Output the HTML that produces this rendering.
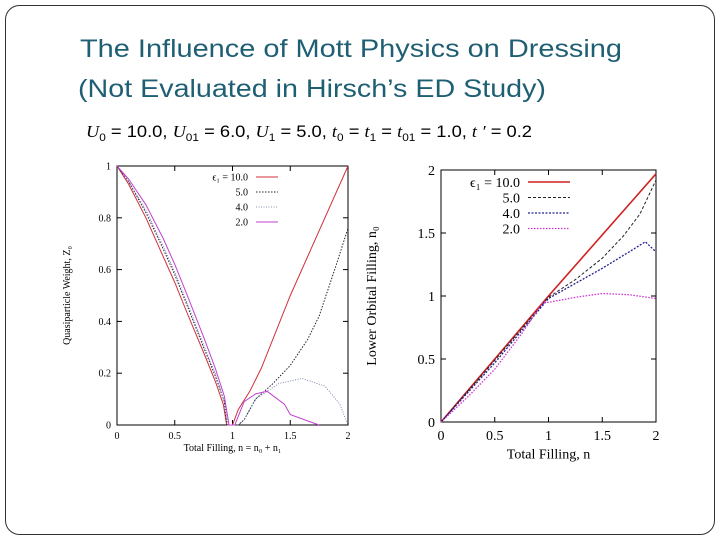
<!DOCTYPE html>
<html><head><meta charset="utf-8"><style>
html,body{margin:0;padding:0;background:#fff;}
svg{display:block;font-family:"Liberation Serif",serif;}
</style></head><body>
<svg id="s" width="720" height="540" viewBox="0 0 720 540" xmlns="http://www.w3.org/2000/svg">
<rect x="5.5" y="5.5" width="709" height="529" rx="14" fill="#fff" stroke="#333" stroke-width="1"/>
<text x="80" y="57" font-family="Liberation Sans, sans-serif" font-size="25" fill="#1f5f73" textLength="542" lengthAdjust="spacingAndGlyphs">The Influence of Mott Physics on Dressing</text>
<text x="78" y="97" font-family="Liberation Sans, sans-serif" font-size="25" fill="#1f5f73" textLength="468" lengthAdjust="spacingAndGlyphs">(Not Evaluated in Hirsch’s ED Study)</text>
<text x="86" y="137" font-family="Liberation Sans, sans-serif" font-size="17" fill="#000" textLength="446" lengthAdjust="spacingAndGlyphs"><tspan font-style="italic" font-family="Liberation Serif">U</tspan><tspan font-size="11" dy="4">0</tspan><tspan dy="-4"> = 10.0, </tspan><tspan font-style="italic" font-family="Liberation Serif">U</tspan><tspan font-size="11" dy="4">01</tspan><tspan dy="-4"> = 6.0, </tspan><tspan font-style="italic" font-family="Liberation Serif">U</tspan><tspan font-size="11" dy="4">1</tspan><tspan dy="-4"> = 5.0, </tspan><tspan font-style="italic" font-family="Liberation Serif">t</tspan><tspan font-size="11" dy="4">0</tspan><tspan dy="-4"> = </tspan><tspan font-style="italic" font-family="Liberation Serif">t</tspan><tspan font-size="11" dy="4">1</tspan><tspan dy="-4"> = </tspan><tspan font-style="italic" font-family="Liberation Serif">t</tspan><tspan font-size="11" dy="4">01</tspan><tspan dy="-4"> = 1.0, </tspan><tspan font-style="italic" font-family="Liberation Serif">t ′</tspan><tspan> = 0.2</tspan></text>
<g id="left"></g>
<g id="right"></g>
</svg>
<script>
const NS="http://www.w3.org/2000/svg";
// Left chart data: quasiparticle weight Z0 vs total filling n
const leftCategories=["10.0","5.0","4.0","2.0"];
const leftX10=[0,0.1,0.25,0.4,0.5,0.6,0.75,0.85,0.92,0.95,1.0,1.05,1.15,1.25,1.5,1.75,2.0];
const leftY10=[1,0.93,0.8,0.65,0.55,0.44,0.28,0.17,0.08,0,0,0.06,0.13,0.22,0.5,0.75,1.0];
const leftX5=[0,0.1,0.25,0.4,0.5,0.6,0.75,0.85,0.93,0.95,1.05,1.1,1.2,1.35,1.5,1.65,1.75,1.9,2.0];
const leftY5=[1,0.94,0.82,0.68,0.58,0.47,0.3,0.19,0.09,0,0,0.02,0.1,0.16,0.23,0.33,0.42,0.62,0.76];
const leftX4=[0,0.1,0.25,0.4,0.5,0.6,0.75,0.85,0.93,0.96,1.05,1.1,1.2,1.4,1.6,1.8,1.93,2.0];
const leftY4=[1,0.94,0.83,0.69,0.59,0.48,0.31,0.2,0.09,0,0,0.02,0.1,0.16,0.18,0.15,0.08,0];
const leftX2=[0,0.1,0.25,0.4,0.5,0.6,0.75,0.85,0.93,0.97,1.02,1.1,1.2,1.3,1.45,1.5,1.75];
const leftY2=[1,0.95,0.85,0.72,0.62,0.51,0.34,0.22,0.11,0,0,0.09,0.12,0.13,0.08,0.04,0];
const leftXTicks=["0","0.5","1","1.5","2"];
const leftYTicks=["0","0.2","0.4","0.6","0.8","1"];
// Right chart data: lower orbital filling n0 vs n
const rightX10=[0,1,2];
const rightY10=[0,1,1.97];
const rightX5=[0,0.5,1,1.25,1.5,1.7,1.85,2.0];
const rightY5=[0,0.49,0.99,1.13,1.3,1.48,1.65,1.92];
const rightX4=[0,0.5,1,1.25,1.5,1.75,1.9,2.0];
const rightY4=[0,0.47,0.98,1.1,1.22,1.35,1.43,1.35];
const rightX2=[0,0.25,0.5,0.75,0.95,1.0,1.25,1.5,1.75,2.0];
const rightY2=[0,0.2,0.42,0.7,0.95,0.95,0.99,1.02,1.01,0.98];
const rightXTicks=["0","0.5","1","1.5","2"];
const rightYTicks=["0","0.5","1","1.5","2"];

function el(tag,attrs,parent){const e=document.createElementNS(NS,tag);for(const k in attrs)e.setAttribute(k,attrs[k]);parent.appendChild(e);return e;}

function chart(g,cfg){
  const sx=v=>cfg.x0+(v-cfg.xmin)/(cfg.xmax-cfg.xmin)*(cfg.x1-cfg.x0);
  const sy=v=>cfg.y0-(v-cfg.ymin)/(cfg.ymax-cfg.ymin)*(cfg.y0-cfg.y1);
  const frame=el('rect',{x:cfg.x0,y:cfg.y1,width:cfg.x1-cfg.x0,height:cfg.y0-cfg.y1,fill:'none',stroke:'#000','stroke-width':1},g);
  
  
  cfg.xt.forEach(t=>{const v=parseFloat(t),x=sx(v);
    el('line',{x1:x,x2:x,y1:cfg.y0,y2:cfg.y0-5,stroke:'#000'},g);
    el('line',{x1:x,x2:x,y1:cfg.y1,y2:cfg.y1+5,stroke:'#000'},g);
    const tx=el('text',{x:x,y:cfg.y0+cfg.fs+4,'font-size':cfg.fs,'text-anchor':'middle'},g);tx.textContent=t;
    
    });
  cfg.yt.forEach(t=>{const v=parseFloat(t),y=sy(v);
    el('line',{x1:cfg.x0,x2:cfg.x0+5,y1:y,y2:y,stroke:'#000'},g);
    el('line',{x1:cfg.x1,x2:cfg.x1-5,y1:y,y2:y,stroke:'#000'},g);
    const tx=el('text',{x:cfg.x0-6,y:y+cfg.fs*0.35,'font-size':cfg.fs,'text-anchor':'end'},g);tx.textContent=t;
    
    });
  const xl=el('text',{x:(cfg.x0+cfg.x1)/2,y:cfg.y0+cfg.fs*2.6,'font-size':cfg.fs,'text-anchor':'middle'},g);xl.textContent=cfg.xlabel;
  
  
  const yl=el('text',{x:0,y:0,'font-size':cfg.fs,'text-anchor':'middle',transform:`translate(${cfg.ylx},${(cfg.y0+cfg.y1)/2}) rotate(-90)`},g);yl.textContent=cfg.ylabel;
  
  
  cfg.series.forEach((s,i)=>{
    const d=s.x.map((v,j)=>(j?'L':'M')+sx(v).toFixed(1)+','+sy(s.y[j]).toFixed(1)).join('');
    const p=el('path',{d:d,fill:'none',stroke:s.c,'stroke-width':s.w,'stroke-dasharray':s.da},g);
    
    
    const ly=cfg.ly+i*cfg.lstep;
    const lt=el('text',{x:cfg.lx,y:ly+cfg.fs*0.35,'font-size':cfg.fs,'text-anchor':'end'},g);
    lt.textContent=(i===0?'ϵ₁ = ':'')+leftCategories[i];
    
    
    const ll=el('line',{x1:cfg.lx+8,x2:cfg.lx+8+cfg.llen,y1:ly,y2:ly,stroke:s.c,'stroke-width':s.w,'stroke-dasharray':s.da},g);
    
    
  });
}
chart(document.getElementById('left'),{name:'left-chart',x0:117,x1:348,y0:425,y1:166,xmin:0,xmax:2,ymin:0,ymax:1,fs:10,
  xt:leftXTicks,yt:leftYTicks,xlabel:'Total Filling, n = n₀ + n₁',ylabel:'Quasiparticle Weight, Z₀',ylx:70,
  lx:248,ly:177,lstep:15,llen:22,
  series:[{x:leftX10,y:leftY10,c:'#d0303a',w:1,da:''},{x:leftX5,y:leftY5,c:'#223',w:1,da:'1.5,1.5'},
          {x:leftX4,y:leftY4,c:'#6070a0',w:0.8,da:'1,1.5'},{x:leftX2,y:leftY2,c:'#c040d0',w:1,da:''}]});
chart(document.getElementById('right'),{name:'right-chart',x0:441,x1:656,y0:422,y1:170,xmin:0,xmax:2,ymin:0,ymax:2,fs:14,
  xt:rightXTicks,yt:rightYTicks,xlabel:'Total Filling, n',ylabel:'Lower Orbital Filling, n₀',ylx:376,
  lx:520,ly:182,lstep:15.5,llen:42,
  series:[{x:rightX10,y:rightY10,c:'#d02020',w:1.6,da:''},{x:rightX5,y:rightY5,c:'#222',w:1,da:'3,2'},
          {x:rightX4,y:rightY4,c:'#202090',w:1.3,da:'2,1.5'},{x:rightX2,y:rightY2,c:'#d030d0',w:1.3,da:'1.5,1.5'}]});
</script>
</body></html>
